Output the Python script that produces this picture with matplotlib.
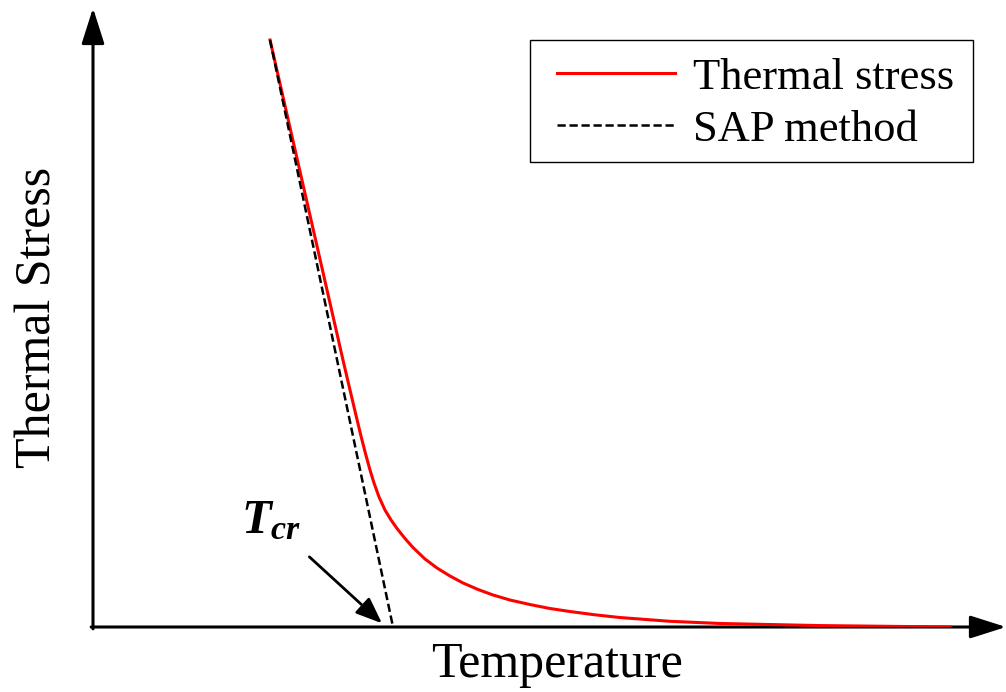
import matplotlib.pyplot as plt
from matplotlib.patches import Rectangle

plt.rcParams['font.family'] = ['Liberation Serif', 'DejaVu Serif']
plt.rcParams['mathtext.fontset'] = 'custom'
plt.rcParams['mathtext.it'] = 'Liberation Serif:italic:bold'
plt.rcParams['mathtext.rm'] = 'Liberation Serif:bold'

# Thermal stress curve (arbitrary units)
temp_stress = [19.39, 27.38, 28.15, 28.81, 29.35, 29.90, 30.34, 30.78, 31.33,
               31.98, 32.64, 33.30, 34.17, 35.05, 36.36, 37.68, 39.10, 40.53,
               42.17, 43.81, 45.67, 47.86, 50.05, 52.25, 54.98, 57.72, 63.20,
               68.67, 79.63, 93.87]
stress = [94.83, 43.13, 38.29, 34.17, 30.86, 27.71, 25.36, 23.26, 21.00,
          18.90, 17.29, 15.91, 14.30, 12.84, 10.99, 9.53, 8.24, 7.11,
          6.06, 5.17, 4.36, 3.63, 2.99, 2.50, 1.97, 1.53, 0.92,
          0.57, 0.23, 0.0]

# SAP method tangent line
temp_sap = [19.39, 32.86]
stress_sap = [94.83, 0.0]

# critical temperature marker
t_cr = 31.65
label_pos = (19.5, 17.0)

fig = plt.figure(figsize=(10.06, 6.92), dpi=100)
ax = fig.add_axes([93 / 1006, 65 / 692, 913 / 1006, 619 / 692])
ax.set_xlim(0, 100)
ax.set_ylim(0, 100)
ax.axis('off')

# axes drawn as arrows
head = '-|>,head_length=2.2,head_width=0.7'
ax.annotate('', xy=(0, 1), xytext=(0, -0.003), xycoords='axes fraction',
            arrowprops=dict(arrowstyle=head, lw=2.2, color='black',
                            shrinkA=0, shrinkB=0))
ax.annotate('', xy=(1.0, 0), xytext=(-0.002, 0), xycoords='axes fraction',
            arrowprops=dict(arrowstyle=head, lw=2.2, color='black',
                            shrinkA=0, shrinkB=0))

ax.plot(temp_stress, stress, color='red', lw=2.2, label='Thermal stress',
        solid_joinstyle='round', zorder=3)
ax.plot(temp_sap, stress_sap, color='black', lw=1.8, ls=(0, (3.3, 1.5)),
        label='SAP method', zorder=4)

# legend box drawn separately, legend itself frameless
ax.add_patch(Rectangle((0.4786, 0.7512), 0.4853, 0.1971,
                       transform=ax.transAxes, fill=False,
                       edgecolor='black', lw=1.0, zorder=5))
ax.legend(loc='upper left', bbox_to_anchor=(0.5082, 0.92),
          fontsize=32, frameon=False, handlelength=2.65, handletextpad=0.4,
          labelspacing=0.27, borderpad=0, borderaxespad=0)

ax.annotate(r'$T_{cr}$', xy=(t_cr, 0.6), xytext=label_pos,
            fontsize=35, ha='center', va='center',
            arrowprops=dict(arrowstyle='-|>,head_length=0.8,head_width=0.32',
                            mutation_scale=20, lw=2.0, color='black',
                            shrinkA=11, shrinkB=0))

fig.text(557 / 1006, 1 - 665 / 692, 'Temperature', fontsize=36,
         ha='center', va='center')
fig.text(38 / 1006, 1 - 317 / 692, 'Thermal Stress', fontsize=36,
         ha='center', va='center', rotation=90)

fig.savefig('out.png', dpi=100)
